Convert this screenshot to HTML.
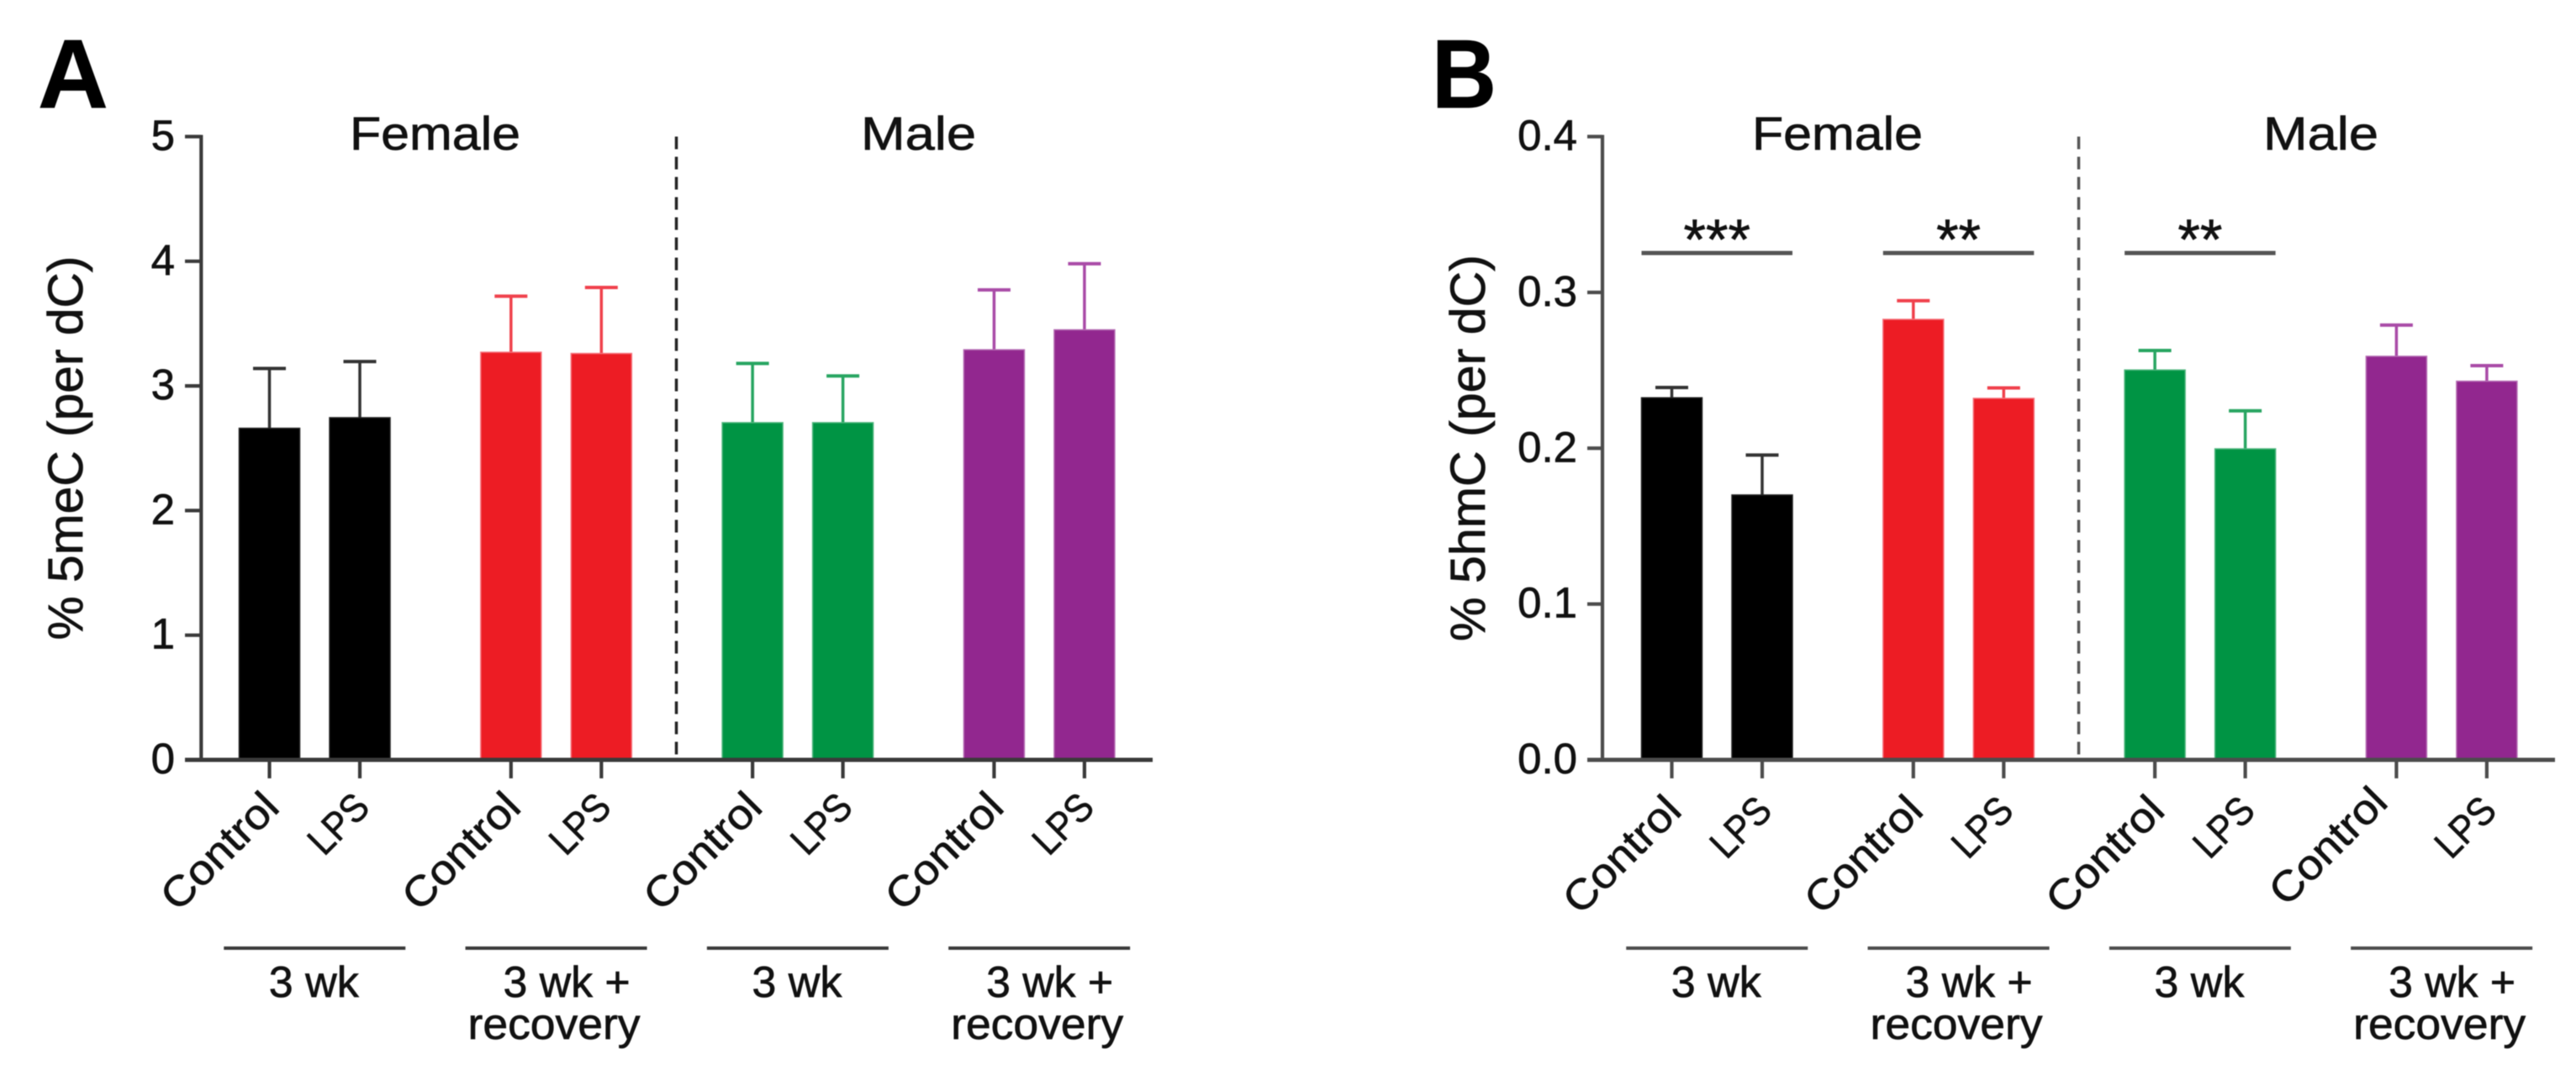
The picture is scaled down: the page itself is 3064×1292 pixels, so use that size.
<!DOCTYPE html>
<html lang="en">
<head>
<meta charset="utf-8">
<title>5meC and 5hmC bar charts</title>
<style>
html,body{margin:0;padding:0;background:#fff;}
svg{display:block;filter:blur(0.6px);}
text{font-family:"Liberation Sans",sans-serif;fill:#111;stroke:#111;stroke-width:0.7px;}
</style>
</head>
<body>
<svg id="figure" xmlns="http://www.w3.org/2000/svg" width="3064" height="1292" viewBox="0 0 3064 1292">
  <rect width="3064" height="1292" fill="#fff"/>
  <text x="45" y="128" font-size="116" font-weight="bold" style="fill:#000;stroke:#000">A</text>
  <text x="1703" y="128" font-size="116" font-weight="bold" textLength="77" lengthAdjust="spacingAndGlyphs" style="fill:#000;stroke:#000">B</text>
  <g id="panel-a"></g>
  <g id="panel-b"></g>
</svg>
<script>
const categories = ['Control','LPS','Control','LPS','Control','LPS','Control','LPS'];
const groupLines = ['3 wk','3 wk +','3 wk','3 wk +'];
const barColors = ['#000000','#000000','#ed1c24','#ed1c24','#009444','#009444','#92278f','#92278f'];
const edgeColors = ['#222222','#222222','#f5707a','#f5707a','#4db57c','#4db57c','#b56cb3','#b56cb3'];
const errColors = ['#333333','#333333','#f0414c','#f0414c','#27a561','#27a561','#a94ba7','#a94ba7'];

const aMeans = [2.66,2.745,3.27,3.26,2.705,2.705,3.29,3.45];
const aUpper = [3.14,3.195,3.72,3.79,3.18,3.08,3.77,3.98];
const aTicks = ['0','1','2','3','4','5'];
const aMax = 5;

const bMeans = [0.2324,0.170,0.2827,0.232,0.2502,0.1996,0.259,0.243];
const bUpper = [0.239,0.1956,0.2947,0.2387,0.2627,0.224,0.279,0.253];
const bTicks = ['0.0','0.1','0.2','0.3','0.4'];
const bMax = 0.4;
const bSigStars = ['***','**','**'];
const bSigPairs = [0,2,4];

const NS = 'http://www.w3.org/2000/svg';
const Y0 = 904, YTOP = 162.5;

function make(parent, tag, attrs, content) {
  const el = document.createElementNS(NS, tag);
  for (const k in attrs) el.setAttribute(k, attrs[k]);
  if (content !== undefined) el.textContent = content;
  parent.appendChild(el);
  return el;
}

function drawPanel(id, dx, means, upper, ticks, maxV, title, titleLen) {
  const root = document.getElementById(id);
  const isA = id === 'panel-a';
  const y = v => Y0 - (v / maxV) * (Y0 - YTOP);
  const x = i => dx + 320.5 + (i % 2) * 107.5 + Math.floor(i / 2) * 287.3;
  const axisX = dx + (isA ? 239.3 : 238);
  const dark = isA ? '#3a3a3a' : '#4c4c4c';

  // bars and error bars
  means.forEach((m, i) => {
    const cx = x(i);
    const stem = make(root, 'line', {x1: cx, x2: cx, y1: y(m), y2: y(upper[i]), stroke: errColors[i], 'stroke-width': 3.5});
    
    
    const cap = make(root, 'line', {x1: cx - 19.5, x2: cx + 19.5, y1: y(upper[i]), y2: y(upper[i]), stroke: errColors[i], 'stroke-width': 4});
    
    
    const bar = make(root, 'rect', {x: cx - 36, y: y(m), width: 72, height: Y0 - y(m), fill: barColors[i], stroke: edgeColors[i], 'stroke-width': 1.5});
    
    
  });

  // axes
  const yAxis = make(root, 'line', {x1: axisX, x2: axisX, y1: YTOP - 2, y2: Y0, stroke: dark, 'stroke-width': 4.2});
  
  
  const xAxis = make(root, 'line', {x1: dx + 220, x2: dx + 1371, y1: Y0, y2: Y0, stroke: dark, 'stroke-width': 5});
  
  

  ticks.forEach(t => {
    const v = parseFloat(t);
    const tk = make(root, 'line', {x1: dx + 220, x2: axisX, y1: y(v), y2: y(v), stroke: dark, 'stroke-width': 4.2});
    
    
    const lb = make(root, 'text', {x: dx + 208, y: y(v) + 16, 'text-anchor': 'end', 'font-size': 51}, t);
    
    
  });

  // divider
  const div = make(root, 'line', {x1: dx + 804.5, x2: dx + 804.5, y1: YTOP, y2: Y0, stroke: isA ? '#222222' : '#555555', 'stroke-width': 3.5, 'stroke-dasharray': '15 9'});
  
  

  // x ticks and rotated labels
  categories.forEach((c, i) => {
    const cx = x(i);
    const tk = make(root, 'line', {x1: cx, x2: cx, y1: Y0, y2: Y0 + 22, stroke: dark, 'stroke-width': 4.2});
    
    
    let ex = cx + 14, ey = isA ? 963 : 967;
    if (!isA && i === 6) { ex -= 22; ey -= 10; }
    const isControl = c === 'Control';
    const lb = make(root, 'text', {x: ex, y: ey, 'text-anchor': 'end', 'font-size': isControl ? 50 : 47, textLength: isControl ? 174 : 80, lengthAdjust: 'spacingAndGlyphs', transform: 'rotate(-45 ' + ex + ' ' + ey + ')'}, c);
    
    
  });

  // group brackets and labels
  groupLines.forEach((g, k) => {
    const mid = (x(k * 2) + x(k * 2 + 1)) / 2;
    const ln = make(root, 'line', {x1: mid - 108, x2: mid + 108, y1: 1128, y2: 1128, stroke: dark, 'stroke-width': 4});
    
    
    const two = k % 2 === 1;
    const lb = make(root, 'text', {x: mid + (two ? 12.5 : -1), y: 1186, 'text-anchor': 'middle', 'font-size': 52, textLength: two ? 151 : 107, lengthAdjust: 'spacingAndGlyphs'}, g);
    
    
    if (two) {
      const rc = make(root, 'text', {x: mid - 2.5, y: 1236, 'text-anchor': 'middle', 'font-size': 52, textLength: 205, lengthAdjust: 'spacingAndGlyphs'}, 'recovery');
      
      
    }
  });

  // headers
  const fem = make(root, 'text', {x: dx + 416, y: 178, 'font-size': 56, textLength: 203, lengthAdjust: 'spacingAndGlyphs'}, 'Female');
  
  
  const mal = make(root, 'text', {x: dx + 1024, y: 178, 'font-size': 56, textLength: 137, lengthAdjust: 'spacingAndGlyphs'}, 'Male');
  
  

  // y title
  const tx = dx + 98, ty = 533;
  const yt = make(root, 'text', {x: tx, y: ty, 'text-anchor': 'middle', 'font-size': 58, textLength: titleLen, lengthAdjust: 'spacingAndGlyphs', transform: 'rotate(-90 ' + tx + ' ' + ty + ')'}, title);
  
  

  return {x, y};
}

drawPanel('panel-a', 0, aMeans, aUpper, aTicks, aMax, '% 5meC (per dC)', 457);
const bScale = drawPanel('panel-b', 1668, bMeans, bUpper, bTicks, bMax, '% 5hmC (per dC)', 460);

// significance markers, panel B
const panelB = document.getElementById('panel-b');
bSigStars.forEach((s, k) => {
  const left = bScale.x(bSigPairs[k]);
  const right = bScale.x(bSigPairs[k] + 1);
  const sigLine = make(panelB, 'line', {x1: left - 36, x2: right + 36, y1: 301, y2: 301, stroke: '#555555', 'stroke-width': 5});
  
  
  const star = make(panelB, 'text', {x: (left + right) / 2, y: 308, 'text-anchor': 'middle', 'font-size': 68}, s);
  
  
});
</script>
</body>
</html>
